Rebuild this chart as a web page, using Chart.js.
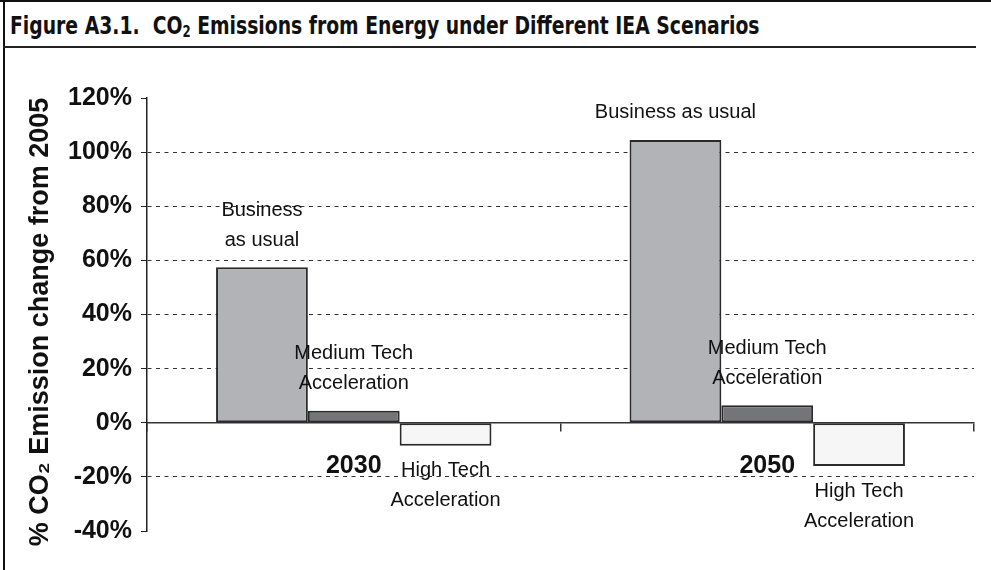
<!DOCTYPE html>
<html>
<head>
<meta charset="utf-8">
<script src="https://cdn.jsdelivr.net/npm/chart.js@4.4.1/dist/chart.umd.min.js"></script>
<style>
  html, body { margin: 0; padding: 0; background: #fff; }
  #frame { position: relative; width: 991px; height: 570px; overflow: hidden; }
  #frame .edge { position: absolute; left: 3px; top: 0; width: 2px; height: 570px; background: #111; }
  #frame .topedge { position: absolute; left: 0; top: 0; width: 991px; height: 2px; background: #111; }
  #title { position: absolute; left: 10px; top: 12px; font: bold 24px "Liberation Sans Narrow", "DejaVu Sans Condensed", sans-serif; color: #111; white-space: nowrap; transform: scaleX(0.87); transform-origin: 0 0; }
  #title sub { font-size: 15px; vertical-align: -3px; line-height: 0; }
  #rule { position: absolute; left: 3px; top: 46px; width: 973px; height: 2px; background: #222; }
  #cv { position: absolute; left: 0; top: 0; }
</style>
</head>
<body>
<div id="frame">
  <div class="topedge"></div>
  <div class="edge"></div>
  <div id="title">Figure A3.1.&nbsp; CO<sub>2</sub> Emissions from Energy under Different IEA Scenarios</div>
  <div id="rule"></div>
  <canvas id="cv" width="991" height="570"></canvas>
</div>
<script>
// data
const years = ['2030', '2050'];
const scenarios = ['Business as usual', 'Medium Tech Acceleration', 'High Tech Acceleration'];
const businessAsUsual = [57.5, 104.5];
const mediumTech = [4.4, 6.5];
const highTech = [-8.5, -16];
const yTicks = [-40, -20, 0, 20, 40, 60, 80, 100, 120];

// text written next to each bar (one entry per year)
const bauText = [['Business', 'as usual'], ['Business as usual']];
const mediumText = [['Medium Tech', 'Acceleration'], ['Medium Tech', 'Acceleration']];
const highText = [['High Tech', 'Acceleration'], ['High Tech', 'Acceleration']];

const barLabels = {
  id: 'barLabels',
  afterDatasetsDraw(chart) {
    const ctx = chart.ctx;
    const texts = [bauText, mediumText, highText];
    ctx.save();
    ctx.font = '20px "Liberation Sans", Arial, sans-serif';
    ctx.fillStyle = '#111';
    ctx.textAlign = 'center';
    ctx.textBaseline = 'middle';
    chart.data.datasets.forEach((ds, di) => {
      chart.getDatasetMeta(di).data.forEach((bar, i) => {
        const lines = texts[di][i];
        const v = ds.data[i];
        lines.forEach((t, k) => {
          let y;
          if (v >= 0) y = bar.y - 27 - (lines.length - 1 - k) * 30;
          else y = bar.y + 25 + k * 30;
          ctx.fillText(t, bar.x, y);
        });
      });
    });
    ctx.restore();
  }
};

const cfg = {
  type: 'bar',
  data: {
    labels: years,
    datasets: [{
      label: scenarios[0],
      data: businessAsUsual,
      backgroundColor: '#b2b3b7',
    }, {
      label: scenarios[1],
      data: mediumTech,
      backgroundColor: '#747579',
    }, {
      label: scenarios[2],
      data: highTech,
      backgroundColor: '#f6f6f6',
    }],
  },
  options: {
    responsive: false,
    animation: false,
    layout: { padding: { left: 0, top: 98, right: 17, bottom: 39 } },
    datasets: {
      bar: {
        barPercentage: 1,
        categoryPercentage: 0.666,
        borderColor: '#2a2a2a',
        borderWidth: 2,
        borderSkipped: false,
      }
    },
    plugins: {
      legend: { display: false },
      tooltip: { enabled: false },
    },
    scales: {
      x: {
        position: { y: 0 },
        grid: {
          drawOnChartArea: false,
          offset: true,
          tickLength: 8,
          color: '#333',
          lineWidth: 1.5,
        },
        border: { color: '#333', width: 1.5 },
        ticks: {
          padding: 20,
          color: '#111',
          font: { family: '"Liberation Sans", Arial, sans-serif', size: 25, weight: 'bold' },
        },
      },
      y: {
        min: -40,
        max: 120,
        afterFit(scale) { scale.width = 147; },
        afterBuildTicks(scale) { scale.ticks = yTicks.map(v => ({ value: v })); },
        grid: {
          color: c => (c.tick && [0, 120, -40].includes(c.tick.value)) ? 'rgba(0,0,0,0)' : '#333',
          tickColor: '#222',
          tickLength: 6,
          tickBorderDash: [],
          lineWidth: 1,
        },
        // in v4 border.dash dashes the grid lines, the axis line stays solid
        border: { color: '#222', width: 1.5, dash: [4, 4.5] },
        ticks: {
          padding: 9,
          color: '#111',
          callback: v => v + '%',
          font: { family: '"Liberation Sans", Arial, sans-serif', size: 25, weight: 'bold' },
        },
        title: {
          display: true,
          // two trailing spaces nudge the centred title a little lower, as in the original
          text: '% CO\u2082 Emission change from 2005\u00a0\u00a0',
          color: '#111',
          padding: { top: 27, bottom: 0 },
          font: { family: '"Liberation Sans", Arial, sans-serif', size: 27, weight: 'bold', lineHeight: 1 },
        },
      },
    },
  },
  plugins: [barLabels],
};

const ctxEl = document.getElementById('cv');
window.myBar = new Chart(ctxEl, cfg);
</script>
</body>
</html>
